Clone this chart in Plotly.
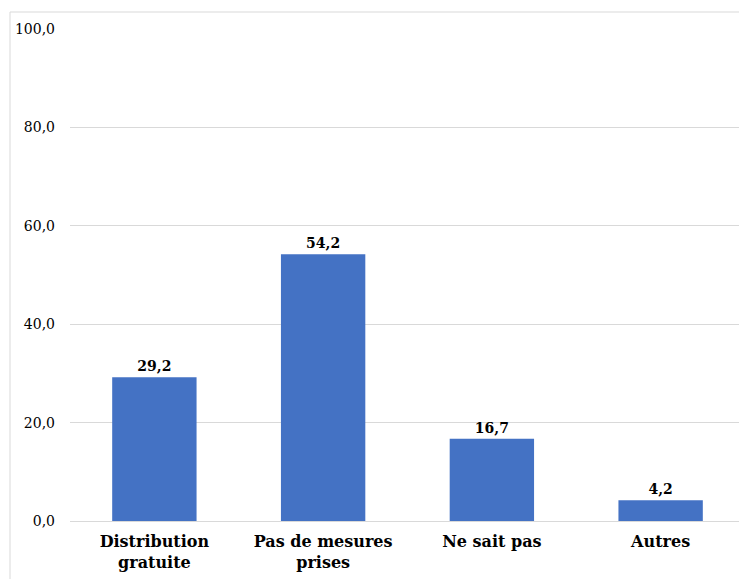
import plotly.graph_objects as go

categories = ["Distribution<br>gratuite", "Pas de mesures<br>prises", "Ne sait pas", "Autres"]
values = [29.2, 54.2, 16.7, 4.2]
tick_vals = [0, 20, 40, 60, 80, 100]

SERIF = "DejaVu Serif"

fig = go.Figure(go.Bar(
    x=categories, y=values,
    marker=dict(color="#4472C4", line=dict(width=0)),
    texttemplate="<b>%{y:.1f}</b>", textposition="outside",
    textfont=dict(family=SERIF, size=14, color="black"),
    cliponaxis=False,
))

fig.update_layout(
    width=739, height=571,
    margin=dict(l=62, r=2, t=21, b=58),
    paper_bgcolor="white", plot_bgcolor="white",
    separators=", ",
    bargap=0.5,
    showlegend=False,
    font=dict(family=SERIF, color="black"),
    xaxis=dict(showgrid=False, showline=True, linecolor="#d9d9d9", linewidth=1,
               tickfont=dict(family=SERIF, size=16, color="black"),
               ticks="", ticklabelstandoff=6),
    yaxis=dict(range=[0, 100], tickvals=tick_vals, tickformat=".1f",
               showgrid=True, gridcolor="#d9d9d9", gridwidth=1, zeroline=False,
               showline=False, ticks="", ticklabelstandoff=14,
               tickfont=dict(family=SERIF, size=14, color="black")),
    shapes=[dict(type="rect", xref="paper", yref="paper",
                 x0=(10 - 70) / 675, x1=(746 - 70) / 675,
                 y0=-0.2, y1=(521 - 12) / 492,
                 line=dict(color="#d9d9d9", width=1), fillcolor="rgba(0,0,0,0)", layer="below")],
)
fig.update_xaxes(ticktext=["<b>" + c + "</b>" for c in categories], tickvals=categories)

fig.write_html("out.html")
